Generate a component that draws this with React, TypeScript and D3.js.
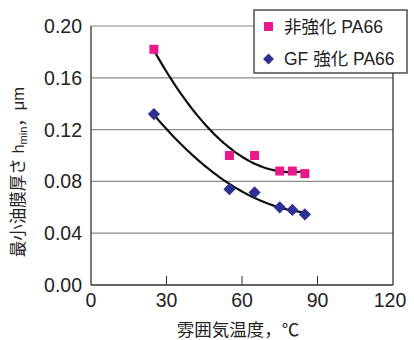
import React from "react";
import * as d3 from "d3";

const temps = [25, 55, 65, 75, 80, 85];
const unreinforced = [0.182, 0.1, 0.1, 0.088, 0.088, 0.086];
const gfReinforced = [0.132, 0.074, 0.0715, 0.06, 0.058, 0.0545];
const xTicks = [0, 30, 60, 90, 120];
const yTicks = [0, 0.04, 0.08, 0.12, 0.16, 0.2];
const seriesNames = ["非強化 PA66", "GF 強化 PA66"];

// least-squares quadratic fit (trendline)
function quadFit(xs: number[], ys: number[]) {
  const n = xs.length;
  let s = [0, 0, 0, 0, 0];
  let t = [0, 0, 0];
  for (let i = 0; i < n; i++) {
    const x = xs[i];
    for (let k = 0; k < 5; k++) s[k] += Math.pow(x, k);
    for (let k = 0; k < 3; k++) t[k] += ys[i] * Math.pow(x, k);
  }
  const M = [
    [s[0], s[1], s[2], t[0]],
    [s[1], s[2], s[3], t[1]],
    [s[2], s[3], s[4], t[2]],
  ];
  for (let i = 0; i < 3; i++) {
    for (let j = i + 1; j < 3; j++) {
      const f = M[j][i] / M[i][i];
      for (let k = i; k < 4; k++) M[j][k] -= f * M[i][k];
    }
  }
  const c = [0, 0, 0];
  for (let i = 2; i >= 0; i--) {
    let v = M[i][3];
    for (let k = i + 1; k < 3; k++) v -= M[i][k] * c[k];
    c[i] = v / M[i][i];
  }
  return (x: number) => c[0] + c[1] * x + c[2] * x * x;
}

const FONT = "'Liberation Sans', Arial, 'Noto Sans CJK JP', sans-serif";

export default function App() {
  const W = 414, H = 340;
  const x = d3.scaleLinear().domain([0, 120]).range([91, 393]);
  const y = d3.scaleLinear().domain([0, 0.2]).range([285, 26]);
  const pink = "#e8198b";
  const blue = "#2e3192";

  const fits = [quadFit(temps, unreinforced), quadFit(temps, gfReinforced)];
  const xs = d3.range(25, 85.01, 1);
  const line = (f: (v: number) => number) =>
    d3.line<number>().x((v) => x(v)).y((v) => y(f(v))).curve(d3.curveBasis)(xs) || "";

  return (
    <svg width={W} height={H} style={{ position: "absolute", left: 0, top: 0, background: "#fff" }}>
      {yTicks.filter((t) => t > 0).map((t) => (
        <line key={t} x1={x(0)} x2={x(120)} y1={y(t)} y2={y(t)} stroke="#8a8a8a" strokeWidth={1.2} />
      ))}
      <line x1={x(0)} x2={x(0)} y1={y(0.2)} y2={y(0)} stroke="#333" strokeWidth={1.3} />
      <line x1={x(120)} x2={x(120)} y1={y(0.2)} y2={y(0)} stroke="#333" strokeWidth={1.3} />
      <line x1={x(0)} x2={x(120)} y1={y(0)} y2={y(0)} stroke="#333" strokeWidth={1.3} />
      {xTicks.slice(1, -1).map((t) => (
        <line key={t} x1={x(t)} x2={x(t)} y1={y(0)} y2={y(0) - 9} stroke="#333" strokeWidth={1} />
      ))}
      {yTicks.map((t) => (
        <text key={t} x={82} y={y(t)} dy="0.36em" textAnchor="end" fontFamily={FONT} fontSize={19.5} fill="#222">
          {t.toFixed(2)}
        </text>
      ))}
      {xTicks.map((t) => (
        <text key={t} x={x(t) - (t === 120 ? 3 : 0)} y={300} dy="0.36em" textAnchor="middle" fontFamily={FONT} fontSize={19.5} fill="#222">
          {t}
        </text>
      ))}
      <text x={238} y={330} dy="0.36em" textAnchor="middle" fontFamily={FONT} fontSize={17.5} fill="#222">
        雰囲気温度，℃
      </text>
      <text
        transform={`translate(18,172) rotate(-90)`}
        textAnchor="middle"
        dy="0.36em"
        fontFamily={FONT}
        fontSize={16.5}
        fill="#222"
      >
        最小油膜厚さ h<tspan fontSize={11} dy="3">min</tspan><tspan dy="-3">，μm</tspan>
      </text>
      {fits.map((f, i) => (
        <path key={i} d={line(f)} fill="none" stroke="#111" strokeWidth={2.2} />
      ))}
      {temps.map((t, i) => (
        <rect key={"p" + i} x={x(t) - 4.5} y={y(unreinforced[i]) - 4.5} width={9} height={9} fill={pink} />
      ))}
      {temps.map((t, i) => (
        <path
          key={"b" + i}
          d={d3.symbol().type(d3.symbolDiamond2).size(95)() || ""}
          transform={`translate(${x(t)},${y(gfReinforced[i])})`}
          fill={blue}
        />
      ))}
      <rect x={254} y={10} width={153} height={63} fill="#fff" stroke="#333" strokeWidth={1.3} />
      <rect x={264} y={22} width={9} height={9} fill={pink} />
      <text x={284} y={27} dy="0.36em" fontFamily={FONT} fontSize={17.5} fill="#222">{seriesNames[0]}</text>
      <path d={d3.symbol().type(d3.symbolDiamond2).size(75)() || ""} transform="translate(268.5,59)" fill={blue} />
      <text x={284} y={59} dy="0.36em" fontFamily={FONT} fontSize={17.5} fill="#222">{seriesNames[1]}</text>
    </svg>
  );
}
